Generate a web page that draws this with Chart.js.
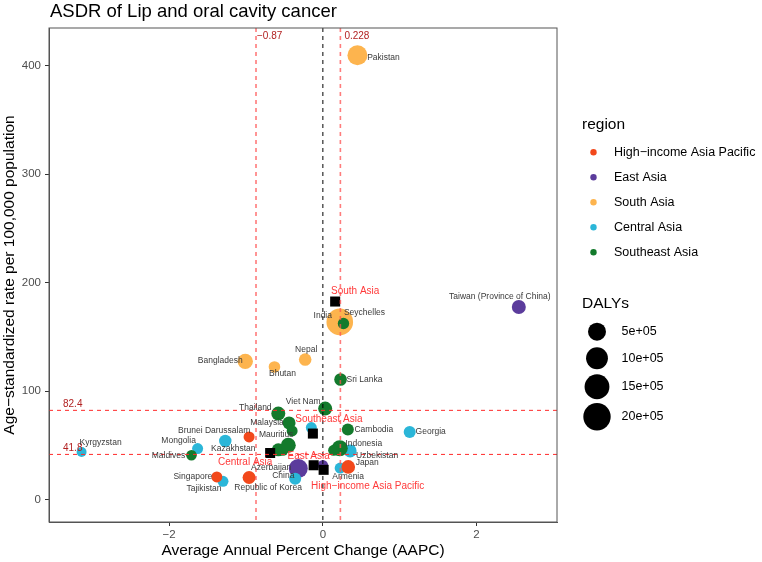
<!DOCTYPE html>
<html>
<head>
<meta charset="utf-8">
<script src="https://cdn.jsdelivr.net/npm/chart.js@4.4.0/dist/chart.umd.min.js"></script>
<style>
  html, body { margin: 0; padding: 0; background: #fff; }
</style>
</head>
<body>
<canvas id="chart" width="762" height="562"></canvas>
<script>
// ---- data ----
const regions = ['High−income Asia Pacific', 'East Asia', 'South Asia', 'Central Asia', 'Southeast Asia'];

const hiapCountries = ['Brunei Darussalam', 'Japan', 'Republic of Korea', 'Singapore'];
const hiapAAPC = [-0.96, 0.33, -0.96, -1.38];
const hiapASDR = [57.9, 30.2, 20.5, 21.0];
const hiapDALYs = [33000, 150000, 110000, 33000];

const eastCountries = ['China', 'Taiwan (Province of China)', "Democratic People's Republic of Korea"];
const eastAAPC = [-0.32, 2.55, 0.0];
const eastASDR = [28.8, 177.7, 31.8];
const eastDALYs = [610000, 165000, 20000];

const southCountries = ['Bangladesh', 'Bhutan', 'India', 'Nepal', 'Pakistan'];
const southAAPC = [-1.01, -0.63, 0.22, -0.23, 0.45];
const southASDR = [127.6, 122.4, 163.9, 129.2, 409.7];
const southDALYs = [260000, 50000, 1840000, 90000, 740000];

const centralCountries = ['Armenia', 'Azerbaijan', 'Georgia', 'Kazakhstan', 'Kyrgyzstan', 'Mongolia', 'Tajikistan', 'Turkmenistan', 'Uzbekistan'];
const centralAAPC = [0.225, -0.36, 1.13, -1.27, -3.14, -1.63, -1.30, -0.15, 0.355];
const centralASDR = [29.2, 19.4, 62.5, 54.2, 44.0, 47.2, 17.0, 66.5, 45.0];
const centralDALYs = [33000, 66000, 66000, 82000, 11000, 33000, 33000, 33000, 110000];

const seaCountries = ['Cambodia', 'Indonesia', 'Lao PDR', 'Malaysia', 'Maldives', 'Mauritius', 'Myanmar', 'Philippines', 'Seychelles', 'Sri Lanka', 'Thailand', 'Timor-Leste', 'Viet Nam'];
const seaAAPC = [0.325, 0.22, -0.52, -0.44, -1.71, -0.40, -0.58, -0.45, 0.268, 0.23, -0.58, 0.14, 0.03];
const seaASDR = [64.7, 47.5, 45.6, 70.8, 41.0, 63.4, 46.0, 50.2, 162.4, 110.8, 79.4, 45.6, 84.0];
const seaDALYs = [66000, 310000, 33000, 110000, 23000, 33000, 110000, 230000, 44000, 90000, 165000, 33000, 165000];

// regional summary points (black squares)
const summaryNames = ['South Asia', 'Southeast Asia', 'Central Asia', 'East Asia', 'High−income Asia Pacific'];
const summaryAAPC = [0.16, -0.13, -0.686, -0.12, 0.01];
const summaryASDR = [182.7, 61.0, 43.1, 31.8, 27.6];

// dashed reference lines
const refAAPC = [-0.87, 0.228];
const refASDR = [82.4, 41.8];

const xTicks = [-2, 0, 2];
const yTicks = [0, 100, 200, 300, 400];
const dalyBreaks = [500000, 1000000, 1500000, 2000000];
const dalyBreakLabels = ['5e+05', '10e+05', '15e+05', '20e+05'];

// ---- styles ----
const FONT = "'Liberation Sans', Arial, Helvetica, sans-serif";
const regionColors = ['#F2481B', '#5B3C9C', '#FDB44E', '#2BB6D8', '#137A2C'];
const labelRed = '#FF3A3A';
const lineRed = '#B22222';

function dalyRadius(d) {
  return 4.3 + 2.1 * Math.sqrt(d / 1e5);
}

// label offsets (px from the point centre)
const labelOffsets = {
  'Pakistan': [26, 2], 'Taiwan (Province of China)': [-19, -10], 'India': [-17, -6],
  'Seychelles': [21, -11], 'Nepal': [1, -10], 'Bangladesh': [-25, -1], 'Bhutan': [8, 7],
  'Sri Lanka': [24, 0], 'Viet Nam': [-22, -7], 'Thailand': [-23, -6], 'Malaysia': [-22, 0],
  'Mauritius': [-16, 4], 'Brunei Darussalam': [-35, -6], 'Mongolia': [-19, -8],
  'Kyrgyzstan': [19, -9], 'Kazakhstan': [8, 8], 'Maldives': [-23, 0], 'Singapore': [-24, 0],
  'Tajikistan': [-19, 7], 'Republic of Korea': [19, 10], 'Azerbaijan': [-24, -11],
  'China': [-15, 7], 'Cambodia': [26, 0], 'Georgia': [21, 0], 'Indonesia': [24, -5],
  'Uzbekistan': [27, 5], 'Japan': [19, -4], 'Armenia': [8, 9]
};
const summaryOffsets = [[20, -10], [16, -14], [-25, 9], [-5, -9], [44, 16]];

function points(ax, ay, ad) {
  return ax.map((v, i) => ({ x: v, y: ay[i], d: ad ? ad[i] : 0 }));
}

const regionData = [
  { names: hiapCountries, data: points(hiapAAPC, hiapASDR, hiapDALYs), order: 2 },
  { names: eastCountries, data: points(eastAAPC, eastASDR, eastDALYs), order: 4 },
  { names: southCountries, data: points(southAAPC, southASDR, southDALYs), order: 5 },
  { names: centralCountries, data: points(centralAAPC, centralASDR, centralDALYs), order: 3 },
  { names: seaCountries, data: points(seaAAPC, seaASDR, seaDALYs), order: 1 }
];

const datasets = regionData.map((r, i) => ({
  label: regions[i],
  data: r.data,
  order: r.order,
  backgroundColor: regionColors[i],
  borderWidth: 0,
  pointRadius: ctx => dalyRadius(ctx.raw.d),
  pointHoverRadius: ctx => dalyRadius(ctx.raw.d)
}));
datasets.push({
  label: 'summary',
  data: points(summaryAAPC, summaryASDR),
  order: 0,
  pointStyle: 'rect',
  pointRadius: 7.1,
  backgroundColor: '#000',
  borderWidth: 0
});

function fmt(v) {
  return v < 0 ? '−' + Math.abs(v) : String(v);
}

const overlay = {
  id: 'overlay',
  afterDatasetsDraw(chart) {
    const { ctx, chartArea: a, scales: { x, y } } = chart;
    ctx.save();
    ctx.lineWidth = 1;
    // vertical reference lines
    refAAPC.forEach((v, i) => {
      const px = x.getPixelForValue(v);
      ctx.strokeStyle = i === 0 ? '#FF2A2A' : 'rgba(255,80,80,0.75)';
      ctx.lineWidth = i === 0 ? 1 : 1.6;
      ctx.setLineDash([4, 4]);
      ctx.beginPath(); ctx.moveTo(px, a.top); ctx.lineTo(px, a.bottom); ctx.stroke();
    });
    // zero line
    const x0 = x.getPixelForValue(0);
    ctx.strokeStyle = '#000';
    ctx.lineWidth = 1;
    ctx.beginPath(); ctx.moveTo(x0, a.top); ctx.lineTo(x0, a.bottom); ctx.stroke();
    // horizontal reference lines
    ctx.strokeStyle = '#FF2A2A';
    refASDR.forEach(v => {
      const py = y.getPixelForValue(v);
      ctx.beginPath(); ctx.moveTo(a.left, py); ctx.lineTo(a.right, py); ctx.stroke();
    });
    ctx.setLineDash([]);

    // reference line labels
    ctx.fillStyle = lineRed;
    ctx.font = '10px ' + FONT;
    ctx.textBaseline = 'middle';
    ctx.textAlign = 'left';
    const vdx = [1, 4];
    refAAPC.forEach((v, i) => {
      ctx.fillText(fmt(v), x.getPixelForValue(v) + vdx[i], a.top + 8);
    });
    refASDR.forEach(v => {
      ctx.fillText(String(v), a.left + 14, y.getPixelForValue(v) - 6);
    });

    // country labels
    ctx.fillStyle = '#3a3a3a';
    ctx.font = '8.5px ' + FONT;
    ctx.textAlign = 'center';
    regionData.forEach((r, i) => {
      const meta = chart.getDatasetMeta(i);
      r.names.forEach((name, j) => {
        const off = labelOffsets[name];
        if (!off) return;
        const el = meta.data[j];
        ctx.fillText(name, el.x + off[0], el.y + off[1]);
      });
    });

    // region summary labels
    ctx.fillStyle = labelRed;
    ctx.font = '10px ' + FONT;
    const sm = chart.getDatasetMeta(datasets.length - 1);
    summaryNames.forEach((name, j) => {
      const el = sm.data[j];
      ctx.fillText(name, el.x + summaryOffsets[j][0], el.y + summaryOffsets[j][1]);
    });
    ctx.restore();
  },
  afterDraw(chart) {
    const { ctx, chartArea: a } = chart;
    ctx.save();
    // panel border (top/right)
    ctx.strokeStyle = '#555';
    ctx.lineWidth = 1;
    ctx.strokeRect(a.left, a.top, a.right - a.left, a.bottom - a.top);

    // title and axis titles
    ctx.fillStyle = '#000';
    ctx.textBaseline = 'middle';
    ctx.textAlign = 'left';
    ctx.font = '18.5px ' + FONT;
    ctx.fillText('ASDR of Lip and oral cavity cancer', 50, 12);

    ctx.font = '15.5px ' + FONT;
    ctx.textAlign = 'center';
    ctx.fillText('Average Annual Percent Change (AAPC)', (a.left + a.right) / 2, 551);
    ctx.save();
    ctx.translate(10, (a.top + a.bottom) / 2);
    ctx.rotate(-Math.PI / 2);
    ctx.fillText('Age−standardized rate per 100,000 population', 0, 0);
    ctx.restore();

    // region legend
    ctx.textAlign = 'left';
    ctx.font = '15.5px ' + FONT;
    ctx.fillText('region', 582, 125);
    ctx.font = '12.5px ' + FONT;
    regions.forEach((name, i) => {
      const yy = 152.3 + i * 25;
      ctx.fillStyle = regionColors[i];
      ctx.beginPath(); ctx.arc(593.5, yy, 3.2, 0, Math.PI * 2); ctx.fill();
      ctx.fillStyle = '#000';
      ctx.fillText(name, 614, yy);
    });

    // size legend
    ctx.font = '15.5px ' + FONT;
    ctx.fillText('DALYs', 582, 304);
    ctx.font = '12.5px ' + FONT;
    const ys = [331.7, 358.3, 386.7, 416.7];
    dalyBreaks.forEach((d, i) => {
      ctx.fillStyle = '#000';
      ctx.beginPath(); ctx.arc(597, ys[i], dalyRadius(d), 0, Math.PI * 2); ctx.fill();
      ctx.fillText(dalyBreakLabels[i], 621.5, ys[i]);
    });
    ctx.restore();
  }
};

new Chart(document.getElementById('chart'), {
  type: 'scatter',
  data: { datasets },
  options: {
    responsive: false,
    animation: false,
    layout: { padding: { top: 28, right: 205, left: 0, bottom: 0 } },
    plugins: { legend: { display: false }, tooltip: { enabled: false }, title: { display: false } },
    scales: {
      x: {
        type: 'linear',
        min: -3.564,
        max: 3.047,
        afterBuildTicks: s => { s.ticks = xTicks.map(v => ({ value: v })); },
        afterFit: s => { s.height = 40; },
        grid: { display: true, drawOnChartArea: false, drawTicks: true, tickLength: 4, color: '#333' },
        border: { display: true, color: '#555' },
        ticks: { color: '#4D4D4D', font: { family: FONT, size: 11.5 }, padding: 2, maxRotation: 0, autoSkip: false, callback: v => fmt(v) }
      },
      y: {
        type: 'linear',
        min: -20.5,
        max: 434.8,
        afterBuildTicks: s => { s.ticks = yTicks.map(v => ({ value: v })); },
        afterFit: s => { s.width = 49; },
        grid: { display: true, drawOnChartArea: false, drawTicks: true, tickLength: 4, color: '#333' },
        border: { display: true, color: '#555' },
        ticks: { color: '#4D4D4D', font: { family: FONT, size: 11.5 }, padding: 4, autoSkip: false, callback: v => fmt(v) }
      }
    }
  },
  plugins: [overlay]
});
</script>
</body>
</html>
